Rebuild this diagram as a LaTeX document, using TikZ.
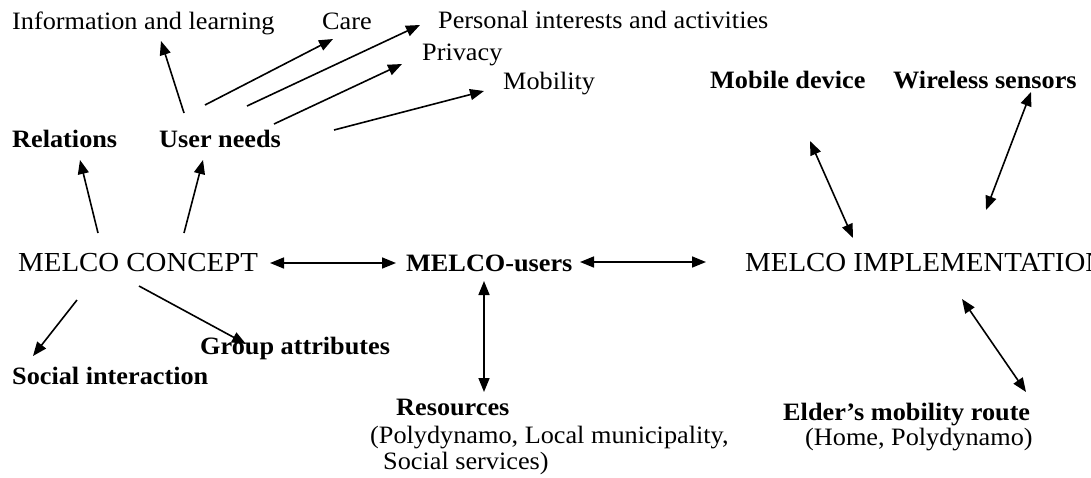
\documentclass[tikz,border=0pt]{standalone}
\usepackage{fontspec}
\setmainfont{Liberation Serif}[FakeStretch=1.05]
\usetikzlibrary{arrows.meta}
\begin{document}
\begin{tikzpicture}[x=1pt,y=-1pt,
  lbl/.style={inner sep=0pt, anchor=base west, font=\fontsize{25}{30}\selectfont},
  blbl/.style={lbl, font=\fontsize{25}{30}\selectfont\bfseries},
  big/.style={lbl, font=\fontsize{27.5}{32}\selectfont},
  arr/.style={line width=1.6pt, -{Triangle[length=14pt,width=11pt]}},
  darr/.style={line width=1.6pt, {Triangle[length=14pt,width=11pt]}-{Triangle[length=14pt,width=11pt]}}]
\useasboundingbox (0,0) rectangle (1091,477);
\clip (0,0) rectangle (1091,477);
\fill[white] (0,0) rectangle (1091,477);

% nodes
\node[lbl]  (info)     at (12,29)  {Information and learning};
\node[lbl]  (care)     at (322,29) {Care};
\node[lbl]  (personal) at (438,28) {Personal interests and activities};
\node[lbl]  (privacy)  at (422,60) {Privacy};
\node[lbl]  (mobility) at (503,89) {Mobility};
\node[blbl] (mobile)   at (710,88) {Mobile device};
\node[blbl] (wireless) at (893,88) {Wireless sensors};
\node[blbl] (relations) at (12,147) {Relations};
\node[blbl] (userneeds) at (159,147) {User needs};
\node[big]  (concept)  at (18,271) {MELCO CONCEPT};
\node[blbl] (users)    at (406,271) {MELCO-users};
\node[big]  (impl)     at (745,271) {MELCO IMPLEMENTATION};
\node[blbl] (group)    at (200,354) {Group attributes};
\node[blbl] (social)   at (12,384) {Social interaction};
\node[blbl] (resources) at (396,415) {Resources};
\node[lbl]  (res1)     at (370,443) {(Polydynamo, Local municipality,};
\node[lbl]  (res2)     at (383,469) {Social services)};
\node[blbl] (elder)    at (783,420) {Elder's mobility route};
\node[lbl]  (elder1)   at (805,445) {(Home, Polydynamo)};

% connector end points
\coordinate (un-info)  at (184,113); \coordinate (info-h)  at (161,41);
\coordinate (un-care)  at (205,105); \coordinate (care-h)  at (333,39);
\coordinate (un-pers)  at (247,106); \coordinate (pers-h)  at (420,25);
\coordinate (un-priv)  at (274,124); \coordinate (priv-h)  at (402,64);
\coordinate (un-mob)   at (334,130); \coordinate (mob-h)   at (484,91);
\coordinate (co-rel)   at (98,233);  \coordinate (rel-h)   at (80,160);
\coordinate (co-un)    at (184,233); \coordinate (un-h)    at (203,160);
\coordinate (co-us)    at (270,263); \coordinate (us-co)   at (396,263);
\coordinate (us-im)    at (580,262); \coordinate (im-us)   at (706,262);
\coordinate (im-mob)   at (853,238); \coordinate (mobd-h)  at (810,141);
\coordinate (im-wl)    at (986,210); \coordinate (wl-h)    at (1031,92);
\coordinate (im-el)    at (962,299); \coordinate (el-h)    at (1026,392);
\coordinate (co-soc)   at (77,300);  \coordinate (soc-h)   at (33,356);
\coordinate (co-grp)   at (139,286); \coordinate (grp-h)   at (246,344);
\coordinate (us-res)   at (484,281); \coordinate (res-h)   at (484,392);

% connectors
\draw[arr] (un-info) -- (info-h);
\draw[arr] (un-care) -- (care-h);
\draw[arr] (un-pers) -- (pers-h);
\draw[arr] (un-priv) -- (priv-h);
\draw[arr] (un-mob) -- (mob-h);
\draw[arr] (co-rel) -- (rel-h);
\draw[arr] (co-un) -- (un-h);
\draw[darr] (co-us) -- (us-co);
\draw[darr] (us-im) -- (im-us);
\draw[darr] (im-mob) -- (mobd-h);
\draw[darr] (im-wl) -- (wl-h);
\draw[darr] (im-el) -- (el-h);
\draw[arr] (co-soc) -- (soc-h);
\draw[arr] (co-grp) -- (grp-h);
\draw[darr] (us-res) -- (res-h);
\end{tikzpicture}
\end{document}
